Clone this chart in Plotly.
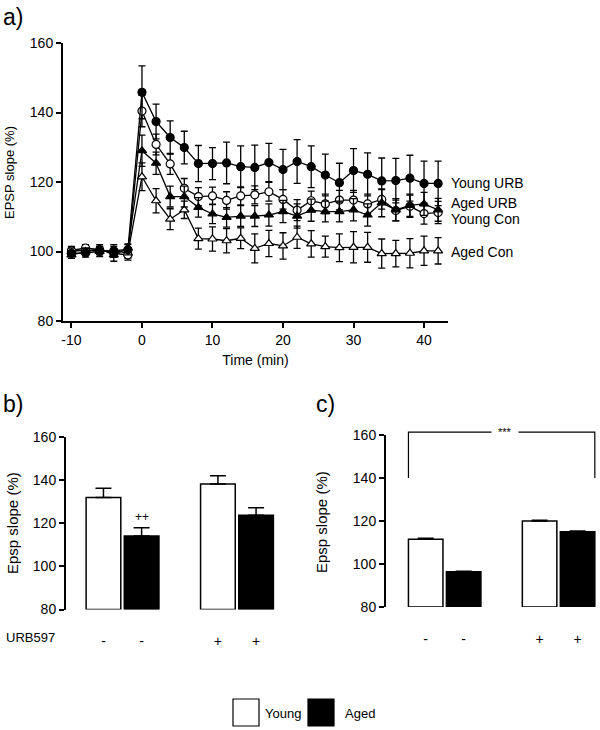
import plotly.graph_objects as go

## data ##
time = [-10, -8, -6, -4, -2, 0, 2, 4, 6, 8, 10, 12, 14, 16, 18, 20, 22, 24, 26, 28, 30, 32, 34, 36, 38, 40, 42]
time_ticks = [-10, 0, 10, 20, 30, 40]

young_urb = [99.5, 99.6, 100.0, 100.2, 100.5, 145.8, 137.4, 132.8, 129.9, 125.3, 125.3, 125.5, 124.4, 124.2,
             125.6, 123.6, 125.9, 124.4, 122.0, 119.8, 123.3, 122.2, 120.3, 120.4, 121.1, 119.6, 119.6]
young_urb_sem = [1.5, 1.2, 1.5, 1.8, 1.5, 7.6, 5.0, 4.8, 4.7, 5.2, 4.6, 6.0, 6.0, 6.4, 5.5, 5.8, 6.3, 6.0,
                 6.0, 5.6, 6.3, 6.2, 6.6, 6.4, 6.6, 6.4, 6.4]

young_con = [100.3, 101.0, 100.5, 99.5, 99.0, 140.4, 130.8, 125.2, 118.2, 115.8, 116.0, 114.7, 116.0, 116.3,
             117.2, 115.0, 111.9, 114.6, 113.7, 114.8, 114.8, 113.7, 115.0, 111.8, 113.0, 110.9, 111.2]
young_con_sem = [1.2, 1.0, 1.0, 1.2, 1.5, 4.5, 3.0, 3.0, 2.8, 2.6, 2.5, 2.5, 2.6, 2.6, 2.7, 2.8, 3.0, 2.8,
                 2.8, 2.8, 2.8, 2.8, 2.8, 3.0, 3.2, 3.0, 3.2]

aged_urb = [99.0, 100.0, 100.8, 99.0, 101.0, 129.0, 125.4, 115.8, 115.8, 112.7, 110.8, 109.8, 110.2, 110.2,
            110.5, 111.5, 110.2, 111.9, 111.5, 111.5, 112.0, 110.5, 114.0, 112.0, 113.3, 113.7, 112.0]
aged_urb_sem = [1.0, 1.0, 1.2, 1.8, 1.2, 4.5, 3.2, 3.0, 3.0, 2.8, 2.8, 2.8, 3.0, 3.0, 3.2, 3.2, 3.5, 3.2,
                3.0, 3.0, 3.2, 3.2, 4.0, 3.2, 3.2, 3.3, 3.3]

aged_con = [100.0, 100.5, 100.0, 100.3, 99.5, 121.5, 114.6, 109.3, 112.0, 103.7, 103.6, 103.1, 103.8, 100.9,
            102.3, 101.6, 104.1, 102.2, 101.4, 101.1, 101.2, 101.2, 99.4, 99.4, 99.5, 100.2, 100.2]
aged_con_sem = [1.3, 1.0, 1.0, 1.2, 1.5, 4.0, 3.5, 3.0, 2.5, 3.0, 3.5, 3.5, 3.0, 4.2, 3.8, 3.8, 3.2, 3.8,
                3.0, 4.0, 4.5, 4.3, 4.2, 3.8, 4.2, 4.2, 3.8]

series_names = ["Young URB", "Aged URB", "Young Con", "Aged Con"]
label_values = [119.7, 114.0, 109.4, 99.8]

bar_groups = ["Young", "Aged", "Young", "Aged"]
urb_ticks = ["-", "-", "+", "+"]
b_values = [132.0, 114.2, 138.3, 123.8]
b_sem = [4.3, 3.8, 3.8, 3.5]
c_values = [111.5, 96.4, 120.0, 115.0]
c_sem = [0.5, 0.2, 0.4, 0.4]

FONT = "Liberation Sans, Arial, sans-serif"
bar_pos = [0, 1.1, 3.3, 4.4]
bar_fill = {"Young": "white", "Aged": "black"}

fig = go.Figure()

## panel a ##
styles = [
    (young_urb, young_urb_sem, "circle", "black"),
    (aged_urb, aged_urb_sem, "triangle-up", "black"),
    (young_con, young_con_sem, "circle", "white"),
    (aged_con, aged_con_sem, "triangle-up", "white"),
]
for (y, e, sym, fill), name in zip(styles[::-1], series_names[::-1]):
    fig.add_trace(go.Scatter(
        x=time, y=y, name=name, mode="lines+markers",
        line=dict(color="black", width=1.3),
        marker=dict(symbol=sym, size=8, color=fill, line=dict(color="black", width=1.2)),
        error_y=dict(type="data", array=e, color="black", thickness=1.3, width=3.5),
        xaxis="x", yaxis="y", showlegend=False,
    ))

## panels b, c ##
for vals, sem, xa, ya in [(b_values, b_sem, "x2", "y2"), (c_values, c_sem, "x3", "y3")]:
    fig.add_trace(go.Bar(
        x=bar_pos, y=[v - 80 for v in vals], base=80, width=1,
        marker=dict(color=[bar_fill[g] for g in bar_groups], line=dict(color="black", width=1.5)),
        error_y=dict(type="data", symmetric=False, array=sem, arrayminus=[0] * 4,
                     color="black", thickness=1.5, width=8),
        xaxis=xa, yaxis=ya, showlegend=False,
    ))

yax = dict(range=[80, 160], tickvals=[80, 100, 120, 140, 160], showgrid=False, zeroline=False,
           showline=True, linecolor="black", linewidth=2, ticks="outside", ticklen=5,
           tickcolor="black", tickwidth=1.5, tickfont=dict(size=14, color="black"), automargin=False)
barx = dict(tickvals=bar_pos, ticktext=urb_ticks, showgrid=False, zeroline=False, showline=False,
            ticks="outside", ticklen=19, tickcolor="rgba(0,0,0,0)", tickfont=dict(size=14, color="black"),
            automargin=False)

fig.update_layout(
    template="none",
    width=600, height=730,
    margin=dict(l=0, r=0, t=0, b=0, pad=0),
    paper_bgcolor="white", plot_bgcolor="white",
    font=dict(family=FONT, color="black"),
    xaxis=dict(domain=[63 / 600, 448 / 600], range=[-11.2, 43.4], tickvals=time_ticks,
               ticktext=[str(t) for t in time_ticks], automargin=False,
               showgrid=False, zeroline=False, showline=True, linecolor="black", linewidth=2,
               ticks="outside", ticklen=5, tickcolor="black", tickwidth=1.5,
               tickfont=dict(size=14, color="black"),
               title=dict(text="Time (min)", font=dict(size=14), standoff=8)),
    yaxis=dict(domain=[(730 - 321) / 730, (730 - 43) / 730], anchor="x", **yax),
    xaxis2=dict(domain=[66 / 600, 280 / 600], range=[-1.08, 5.09], anchor="y2", **barx),
    yaxis2=dict(domain=[(730 - 609.5) / 730, (730 - 437.3) / 730], anchor="x2", **yax),
    xaxis3=dict(domain=[386 / 600, 1.0], range=[-1.15, 5.05], anchor="y3", **barx),
    yaxis3=dict(domain=[(730 - 607) / 730, (730 - 435) / 730], anchor="x3", **yax),
)

ann = []
# panel letters
for txt, x, y in [("a)", 1, 17), ("b)", 1, 404), ("c)", 314, 404)]:
    ann.append(dict(text=txt, x=x / 600, y=(730 - y) / 730, xref="paper", yref="paper",
                    xanchor="left", yanchor="middle", showarrow=False, font=dict(size=23)))
# y titles
for txt, x, y, fs in [("EPSP slope (%)", 10, 173, 13), ("Epsp slope (%)", 12, 523, 15),
                      ("Epsp slope (%)", 321, 522, 15)]:
    ann.append(dict(text=txt, x=x / 600, y=(730 - y) / 730, xref="paper", yref="paper", textangle=-90,
                    xanchor="center", yanchor="middle", showarrow=False, font=dict(size=fs)))
# series labels
for name, v in zip(series_names, label_values):
    ann.append(dict(text=name, x=1, y=v, xref="x domain", yref="y", xanchor="left", xshift=1,
                    yanchor="middle", showarrow=False, font=dict(size=14)))
# significance marks
ann.append(dict(text="++", x=bar_pos[1], y=b_values[1] + b_sem[1], xref="x2", yref="y2",
                yanchor="bottom", yshift=2, showarrow=False, font=dict(size=12)))
ann.append(dict(text="***", x=(bar_pos[0] + bar_pos[3]) / 2 + 0.1, y=(161.3 - 80) / 80, xref="x3",
                yref="y3 domain", yanchor="middle", showarrow=False, bgcolor="white",
                font=dict(size=11), borderpad=6))
ann.append(dict(text="URB597", x=4 / 600, y=(730 - 637) / 730, xref="paper", yref="paper",
                xanchor="left", yanchor="middle", showarrow=False, font=dict(size=13)))
# legend text
for txt, x in [("Young", 263), ("Aged", 343)]:
    ann.append(dict(text=txt, x=x / 600, y=(730 - 713) / 730, xref="paper", yref="paper",
                    xanchor="left", yanchor="middle", showarrow=False, font=dict(size=13)))
fig.update_layout(annotations=ann)

# bracket in c
top = (161.3 - 80) / 80
low = (140 - 80) / 80
xl, xr = bar_pos[0] - 0.5, bar_pos[3] + 0.5
fig.add_shape(type="path", path=f"M {xl},{low} L {xl},{top} L {xr},{top} L {xr},{low}",
              xref="x3", yref="y3 domain", line=dict(color="black", width=1.2))
# legend boxes
for x0, fill in [(233, "white"), (308, "black")]:
    fig.add_shape(type="rect", x0=x0 / 600, x1=(x0 + 26) / 600, y0=(730 - 726) / 730, y1=(730 - 699) / 730,
                  xref="paper", yref="paper", fillcolor=fill, line=dict(color="black", width=1.2))

pin = (
    "document.body.style.margin='0';"
    "var d=document.getElementsByClassName('plotly-graph-div')[0];"
    "d.style.position='fixed';d.style.left='0px';d.style.top='0px';"
)
fig.write_html("out.html", config={"displayModeBar": False}, post_script=pin)
